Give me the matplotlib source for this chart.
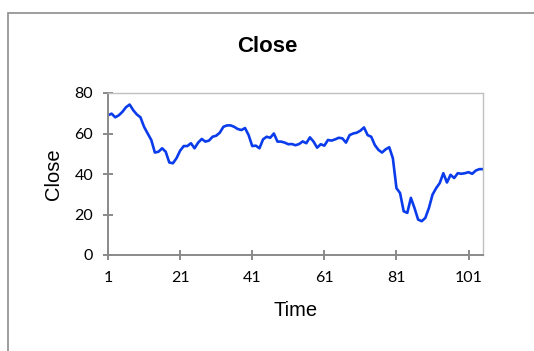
import numpy as np
import matplotlib
matplotlib.use("Agg")
import matplotlib.pyplot as plt
from matplotlib.patches import Rectangle

# closing price per time step
close = [
    69.0, 69.8, 68.0, 69.0, 70.7, 73.0, 74.3, 71.5, 69.4, 68.0,
    63.3, 60.0, 56.8, 50.6, 51.0, 52.7, 51.0, 45.7, 45.3, 47.8,
    51.5, 53.8, 53.8, 55.2, 52.7, 55.5, 57.3, 56.0, 56.5, 58.4,
    58.9, 60.4, 63.3, 64.0, 64.0, 63.3, 62.2, 61.7, 62.7, 59.2,
    53.8, 54.0, 52.7, 57.1, 58.4, 57.9, 60.0, 56.0, 56.0, 55.5,
    54.7, 54.8, 54.2, 54.8, 56.1, 55.2, 58.1, 56.0, 53.0, 54.7,
    54.0, 56.8, 56.5, 57.1, 57.9, 57.6, 55.5, 59.2, 60.0, 60.4,
    61.4, 63.0, 59.2, 58.4, 54.3, 51.9, 50.6, 52.2, 53.2, 47.8,
    33.0, 30.6, 21.6, 20.8, 28.2, 23.2, 17.5, 16.7, 18.3, 23.2,
    29.8, 33.0, 35.5, 40.4, 35.8, 39.6, 38.0, 40.4, 40.1, 40.4,
    40.9, 40.1, 41.7, 42.4, 42.4,
]
time = np.arange(1, len(close) + 1)
x_ticks = [1, 21, 41, 61, 81, 101]
y_ticks = [0, 20, 40, 60, 80]

fig = plt.figure(figsize=(5.34, 3.51), dpi=100)
fig.patch.set_facecolor("white")

# chart-area frame (runs off the right and bottom edges)
fig.patches.append(Rectangle((7.5 / 534, -0.1), 1.2, 1.1 - 12.5 / 351,
                             transform=fig.transFigure, fill=False,
                             edgecolor="#8c8c8c", lw=1.2))

ax = fig.add_axes([108 / 534, 1 - 255 / 351, (483 - 108) / 534, (255 - 93) / 351])
ax.plot(time, close, color="#0a3cec", lw=1.9, solid_joinstyle="round")

ax.set_xlim(1, len(close))
ax.set_ylim(0, 80)
ax.set_xticks(x_ticks)
ax.set_yticks(y_ticks)

for side in ("top", "right"):
    ax.spines[side].set_color("#c0c0c0")
    ax.spines[side].set_linewidth(1.0)
for side in ("left", "bottom"):
    ax.spines[side].set_color("#8a8a8a")
    ax.spines[side].set_linewidth(1.4)

ax.tick_params(direction="inout", length=7.5, width=1.4, color="#8a8a8a",
               labelsize=11.5, pad=7)
ax.tick_params(axis="x", pad=8)
for lbl in ax.get_xticklabels() + ax.get_yticklabels():
    lbl.set_family("Lato")

fig.text(267 / 534, 1 - 46 / 351, "Close", fontsize=16, fontweight="bold",
         family="Liberation Sans", ha="center", va="center")
ax.set_xlabel("Time", fontsize=14.5, family="Liberation Sans", labelpad=11)
ax.set_ylabel("Close", fontsize=14.5, family="Liberation Sans", labelpad=8)

fig.savefig("out.png", dpi=100)
